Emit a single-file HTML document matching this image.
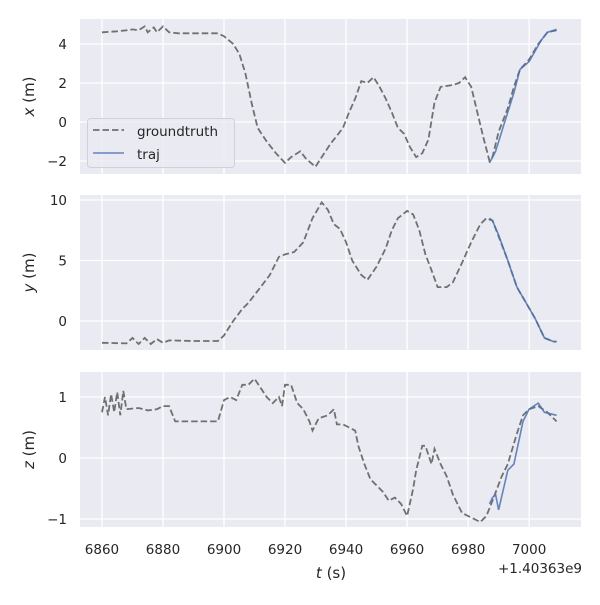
<!DOCTYPE html>
<html><head><style>body{margin:0;background:#fff}svg{font-family:"DejaVu Sans","Liberation Sans",sans-serif}</style></head>
<body>
<svg id="s" width="600" height="600" xmlns="http://www.w3.org/2000/svg"></svg>
<script>
const S=document.getElementById('s');let h='';
const X0=80,X1=581,T0=6852.8,T1=7017;
const tx=t=>X0+(t-T0)*(X1-X0)/(T1-T0);
const panels=[
 {top:19,bot:174,v0:-2,p0:161,v1:4,p1:44,ticks:[-2,0,2,4],lab:'x',
  gt:[[6860,4.6],[6865,4.65],[6868,4.7],[6870,4.75],[6872,4.7],[6874,4.9],[6875,4.6],[6877,4.85],[6878,4.6],[6880,4.9],[6882,4.6],[6885,4.55],[6890,4.55],[6898,4.55],[6900,4.4],[6903,4.0],[6905,3.5],[6907,2.5],[6909,1],[6911,-0.3],[6914,-1],[6917,-1.6],[6920,-2.1],[6922,-1.8],[6925,-1.5],[6927,-1.9],[6930,-2.3],[6932,-1.8],[6935,-1.1],[6937,-0.7],[6939,-0.3],[6941,0.5],[6943,1.2],[6945,2.1],[6947,2.0],[6949,2.3],[6951,1.8],[6953,1.2],[6955,0.5],[6957,-0.3],[6959,-0.6],[6961,-1.3],[6963,-1.8],[6965,-1.6],[6967,-0.9],[6969,1.0],[6971,1.8],[6975,1.9],[6977,2.0],[6979,2.3],[6981,1.8],[6983,0.5],[6985,-0.8],[6987,-2.0],[6988,-1.8],[6990,-0.5],[6993,0.7],[6995,1.8],[6997,2.7],[7000,3.2],[7003,4.0],[7006,4.6],[7009,4.7]],
  tr:[[6987,-2.1],[6989,-1.5],[6992,0],[6995,1.5],[6997,2.7],[7000,3.1],[7004,4.2],[7006,4.6],[7009,4.75]]},
 {top:195,bot:350,v0:0,p0:321,v1:10,p1:200,ticks:[0,5,10],lab:'y',
  gt:[[6860,-1.8],[6868,-1.85],[6870,-1.4],[6872,-1.9],[6874,-1.4],[6876,-1.9],[6878,-1.5],[6880,-1.8],[6882,-1.6],[6890,-1.65],[6898,-1.65],[6900,-1.2],[6903,0],[6906,1],[6908,1.5],[6912,2.8],[6915,3.8],[6918,5.3],[6920,5.5],[6923,5.7],[6926,6.5],[6929,8.5],[6932,9.8],[6934,9.2],[6936,8.0],[6938,7.6],[6940,6.5],[6942,5.0],[6945,3.8],[6947,3.4],[6950,4.5],[6953,6],[6955,7.5],[6957,8.5],[6960,9.1],[6962,8.8],[6964,7.5],[6966,5.5],[6968,4.2],[6970,2.8],[6973,2.8],[6975,3.2],[6978,4.8],[6981,6.5],[6984,8.0],[6986,8.5],[6988,8.3],[6990,7.0],[6993,5.0],[6996,2.8],[6999,1.5],[7002,0.2],[7005,-1.4],[7008,-1.7],[7009,-1.7]],
  tr:[[6987,8.5],[6988,8.3],[6990,7.1],[6993,5.0],[6996,2.8],[6999,1.5],[7002,0.2],[7005,-1.4],[7008,-1.7],[7009,-1.7]]},
 {top:372,bot:527,v0:-1,p0:519,v1:1,p1:397,ticks:[-1,0,1],lab:'z',
  gt:[[6860,0.75],[6861,1.0],[6862,0.7],[6863,1.05],[6864,0.75],[6865,1.08],[6866,0.7],[6867,1.1],[6868,0.8],[6872,0.82],[6875,0.78],[6878,0.8],[6880,0.85],[6882,0.85],[6884,0.6],[6890,0.6],[6898,0.6],[6900,0.95],[6902,1.0],[6904,0.95],[6906,1.2],[6908,1.2],[6910,1.3],[6912,1.15],[6914,1.0],[6916,0.9],[6918,1.0],[6919,0.85],[6920,1.2],[6922,1.2],[6924,0.9],[6926,0.8],[6928,0.6],[6929,0.45],[6931,0.65],[6934,0.7],[6936,0.8],[6937,0.55],[6939,0.55],[6941,0.5],[6943,0.45],[6944,0.2],[6946,-0.1],[6948,-0.35],[6950,-0.45],[6952,-0.55],[6954,-0.7],[6956,-0.65],[6958,-0.75],[6960,-0.95],[6962,-0.5],[6963,-0.2],[6965,0.2],[6966,0.2],[6968,-0.1],[6969,0.15],[6971,-0.1],[6973,-0.3],[6975,-0.6],[6978,-0.9],[6980,-0.95],[6982,-1.0],[6984,-1.05],[6986,-0.95],[6988,-0.7],[6991,-0.3],[6993,-0.1],[6996,0.4],[6998,0.7],[7000,0.8],[7003,0.85],[7006,0.75],[7009,0.6]],
  tr:[[6987,-0.75],[6988,-0.65],[6989,-0.6],[6990,-0.85],[6993,-0.2],[6995,-0.1],[6998,0.6],[7000,0.8],[7003,0.9],[7005,0.75],[7009,0.7]]}
];
panels.forEach(p=>{
 const ty=v=>p.p0+(v-p.v0)*(p.p1-p.p0)/(p.v1-p.v0);
 h+=`<rect x="${X0}" y="${p.top}" width="${X1-X0}" height="${p.bot-p.top}" fill="#eaeaf2"/>`;
 h+=`<clipPath id="c${p.lab}"><rect x="${X0}" y="${p.top}" width="${X1-X0}" height="${p.bot-p.top}"/></clipPath>`;
 for(let t=6860;t<=7000;t+=20)h+=`<line x1="${tx(t)}" x2="${tx(t)}" y1="${p.top}" y2="${p.bot}" stroke="#fff" stroke-width="1.3"/>`;
 p.ticks.forEach(v=>{const y=ty(v);h+=`<line x1="${X0}" x2="${X1}" y1="${y}" y2="${y}" stroke="#fff" stroke-width="1.3"/><text x="${X0-13}" y="${y+5}" font-size="13.5" fill="#262626" text-anchor="end">${v<0?'−'+(-v):v}</text>`;});
 const path=a=>a.map((q,i)=>(i?'L':'M')+tx(q[0]).toFixed(1)+','+ty(q[1]).toFixed(1)).join('');
 h+=`<g clip-path="url(#c${p.lab})"><path d="${path(p.gt)}" fill="none" stroke="#707070" stroke-width="1.8" stroke-dasharray="6.5,3"/><path d="${path(p.tr)}" fill="none" stroke="#4c72b0" stroke-opacity="0.85" stroke-width="1.6"/></g>`;
 const cy=(p.top+p.bot)/2;
 h+=`<text transform="translate(34,${cy}) rotate(-90)" font-size="15" fill="#262626" text-anchor="middle"><tspan font-style="italic">${p.lab}</tspan> (m)</text>`;
});
for(let t=6860;t<=7000;t+=20)h+=`<text x="${tx(t)}" y="554" font-size="13.5" fill="#262626" text-anchor="middle">${t}</text>`;
h+=`<text x="331" y="578" font-size="15" fill="#262626" text-anchor="middle"><tspan font-style="italic">t</tspan> (s)</text>`;
h+=`<text x="582" y="573" font-size="13.5" fill="#262626" text-anchor="end">+1.40363e9</text>`;
h+=`<rect x="87.5" y="118.5" width="147" height="49" rx="3" fill="#eaeaf2" fill-opacity="0.8" stroke="#d0d0d8"/>`;
h+=`<line x1="93" x2="124" y1="130" y2="130" stroke="#707070" stroke-width="1.8" stroke-dasharray="6.5,3"/><text x="137" y="136" font-size="13.5" fill="#262626">groundtruth</text>`;
h+=`<line x1="93" x2="124" y1="153" y2="153" stroke="#4c72b0" stroke-opacity="0.85" stroke-width="1.6"/><text x="137" y="159" font-size="13.5" fill="#262626">traj</text>`;
S.innerHTML=h;
</script>
</body></html>
